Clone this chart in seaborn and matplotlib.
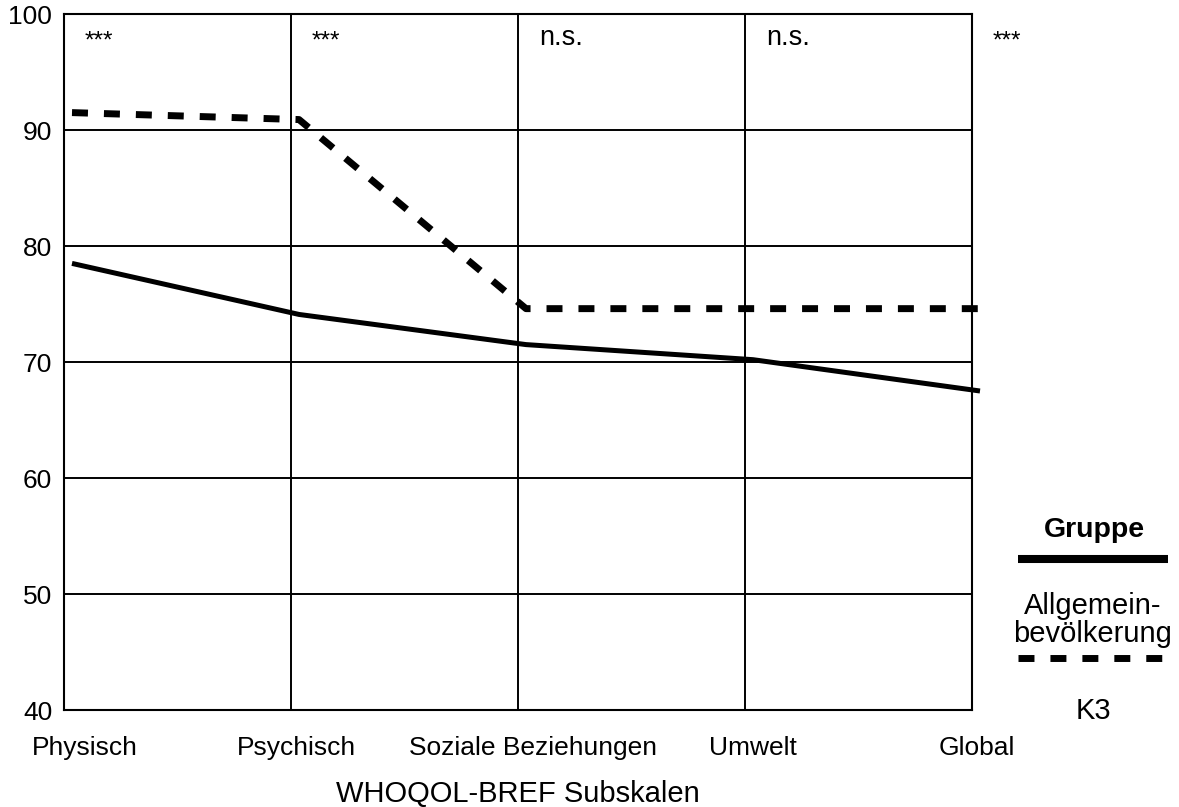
import pandas as pd
import seaborn as sns
import matplotlib.pyplot as plt
from matplotlib.lines import Line2D
from matplotlib.transforms import ScaledTranslation, offset_copy

# Data
subskalen = ["Physisch", "Psychisch", "Soziale Beziehungen", "Umwelt", "Global"]
allgemein = [78.5, 74.1, 71.5, 70.2, 67.5]
k3 = [91.5, 90.9, 74.6, 74.6, 74.6]
signif = ["***", "***", "n.s.", "n.s.", "***"]
gruppen = ["Allgemeinbevölkerung", "K3"]

rows = []
for grp, vals in zip(gruppen, [allgemein, k3]):
    for i, v in enumerate(vals):
        rows.append({"pos": i, "wert": v, "Gruppe": grp})
df = pd.DataFrame(rows)

sns.set_style("white")
plt.rcParams['font.family'] = ['Liberation Sans', 'DejaVu Sans']
plt.rcParams['text.color'] = 'black'
plt.rcParams['axes.labelcolor'] = 'black'

W, H = 1179, 807
fig = plt.figure(figsize=(W / 100, H / 100), dpi=100)
ax = fig.add_axes([64 / W, 1 - 710 / H, 908 / W, 696 / H])

sns.lineplot(data=df, x="pos", y="wert", style="Gruppe",
             dashes={"Allgemeinbevölkerung": "", "K3": (2.3, 2.3)},
             color="black", legend=False, ax=ax, sort=False)

# lines sit a few pixels right of the grid positions in the original
shift = offset_copy(ax.transData, fig=fig, x=8, y=0, units="dots")
for ln, lw in zip(ax.lines, [3.6, 5.0]):
    ln.set_transform(shift)
    ln.set_clip_on(False)
    ln.set_linewidth(lw)
    ln.set_solid_capstyle("butt")
    ln.set_dash_capstyle("butt")

ax.set_xlim(0, 4)
ax.set_ylim(40, 100)
ax.set_xticks(range(len(subskalen)))
ax.set_xticklabels(subskalen)
ax.set_yticks(range(40, 101, 10))
ax.grid(True, color="black", linewidth=1.4)
ax.set_axisbelow(True)
for s in ax.spines.values():
    s.set_color("black")
    s.set_linewidth(1.5)

ax.tick_params(axis="both", length=0, labelsize=19, colors="black")
ax.tick_params(axis="x", pad=19)
ax.tick_params(axis="y", pad=8.5)
for lab, dx in zip(ax.get_xticklabels(), [21, 5, 15, 8, 5]):
    lab.set_transform(lab.get_transform() + ScaledTranslation(dx / 100, 0, fig.dpi_scale_trans))

ax.set_xlabel("WHOQOL-BREF Subskalen", fontsize=21, va="center")
ax.xaxis.set_label_coords(0.5, (710 - 794) / 696)
ax.set_ylabel("")

for i, s in enumerate(signif):
    star = s == "***"
    ax.annotate(s, xy=(i, 100), xytext=(21, -28 if star else -24), textcoords="offset pixels",
                ha="left", va="center", fontsize=17.5 if star else 19.5,
                annotation_clip=False)


def fx(x):
    return x / W


def fy(y):
    return 1 - y / H


# hand-made legend at the right
fig.text(fx(1094), fy(530), "Gruppe", ha="center", va="center", fontsize=20.5, fontweight="bold")
fig.add_artist(Line2D([fx(1018), fx(1168)], [fy(559), fy(559)], color="black",
                      linewidth=5.8, solid_capstyle="butt", transform=fig.transFigure))
fig.text(fx(1093), fy(606), "Allgemein-", ha="center", va="center", fontsize=21)
fig.text(fx(1093), fy(634), "bevölkerung", ha="center", va="center", fontsize=21)
fig.add_artist(Line2D([fx(1018), fx(1164)], [fy(658), fy(658)], color="black",
                      linewidth=5.0, linestyle=(0, (2.3, 2.3)), dash_capstyle="butt",
                      transform=fig.transFigure))
fig.text(fx(1093), fy(711), "K3", ha="center", va="center", fontsize=21)

fig.savefig("out.png", dpi=100)
